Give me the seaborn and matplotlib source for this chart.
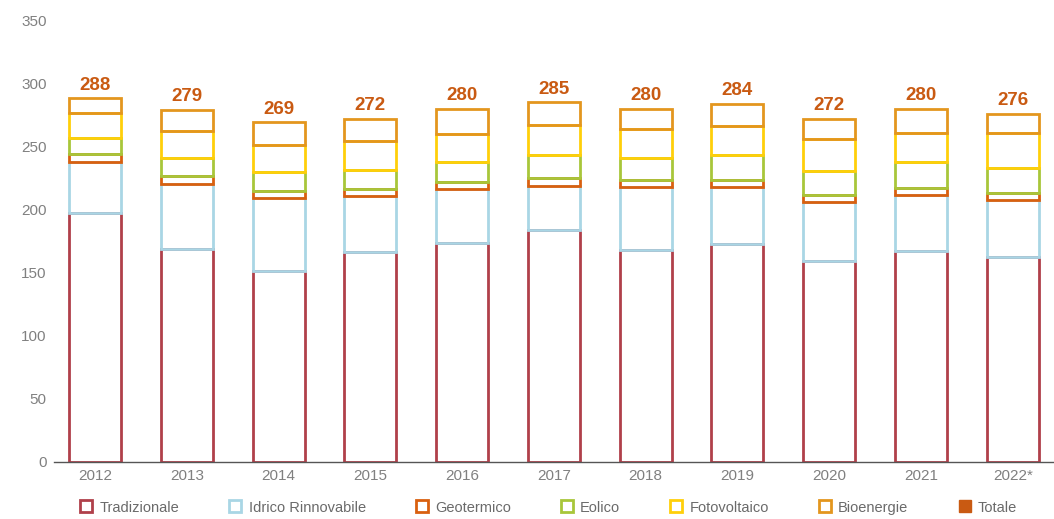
import matplotlib
matplotlib.use("Agg")
import matplotlib.pyplot as plt
import seaborn as sns
import numpy as np
import pandas as pd
from matplotlib.lines import Line2D

# data (TWh)
anni = ["2012", "2013", "2014", "2015", "2016", "2017", "2018", "2019", "2020", "2021", "2022*"]
tradizionale = [197, 169, 151, 166, 173.5, 184, 168, 172.5, 159, 167, 162.5]
idrico = [41, 51.5, 58, 44.5, 42.5, 35, 49.5, 45, 47, 44.5, 45]
geotermico = [6, 6, 6, 6, 6, 6, 6, 6, 5.5, 5.5, 5.5]
eolico = [13, 14.5, 15, 15, 16, 18, 17, 20, 19, 21, 20]
fotovoltaico = [19.5, 21.5, 21, 22.5, 22, 24, 23, 23, 25, 23, 27.5]
bioenergie = [11.5, 16.5, 18, 18, 20, 18, 16.5, 17.5, 16.5, 19, 15.5]
totale = [288, 279, 269, 272, 280, 285, 280, 284, 272, 280, 276]

serie = ["Tradizionale", "Idrico Rinnovabile", "Geotermico", "Eolico", "Fotovoltaico", "Bioenergie"]
valori = [tradizionale, idrico, geotermico, eolico, fotovoltaico, bioenergie]
colori = ["#B0404A", "#A9D6E5", "#D9600F", "#A8C63A", "#FFCF0A", "#E3961E"]
col_totale = "#C95A12"

sns.set_style("white")
plt.rcParams['font.family'] = ['Liberation Sans', 'DejaVu Sans']

fig = plt.figure(figsize=(10.54, 5.19), dpi=100)
ax = fig.add_axes([0.051, 0.110, 0.949, 0.851])

# stacked hollow bars
base = np.zeros(len(anni))
for nome, vals, c in zip(serie, valori, colori):
    df = pd.DataFrame({"anno": anni, "val": vals})
    sns.barplot(data=df, x="anno", y="val", ax=ax, fill=False, color=c,
                linewidth=2, width=0.566, bottom=base.copy(), errorbar=None)
    base += np.array(vals)

# total labels above bars
for i, t in enumerate(totale):
    ax.text(i, base[i] + 3.5, str(t), ha="center", va="bottom", fontsize=13.5,
            fontweight="bold", color=col_totale)

ax.set_ylim(0, 350)
ax.set_xlim(-0.45, 10.45)
ax.set_yticks(range(0, 351, 50))
ax.set_xlabel("")
ax.set_ylabel("")
ax.tick_params(axis="both", length=0, labelsize=11, labelcolor="#808080")
ax.tick_params(axis="y", pad=5)
ax.tick_params(axis="x", pad=5)
for s in ["top", "right", "left"]:
    ax.spines[s].set_visible(False)
ax.spines["bottom"].set_color("#555555")
ax.spines["bottom"].set_linewidth(1)

# legend
handles = [Line2D([], [], marker="s", linestyle="none", markersize=8,
                  markerfacecolor="white", markeredgecolor=c, markeredgewidth=2)
           for c in colori]
handles.append(Line2D([], [], marker="s", linestyle="none", markersize=8.5,
                      markerfacecolor=col_totale, markeredgecolor=col_totale))
fig.legend(handles, serie + ["Totale"], loc="center", bbox_to_anchor=(0.52, 0.022),
           ncol=7, frameon=False, fontsize=10.5, labelcolor="#6a6a6a",
           handletextpad=0.4, columnspacing=3.35, handlelength=1.0)

plt.savefig("out.png", dpi=100)
